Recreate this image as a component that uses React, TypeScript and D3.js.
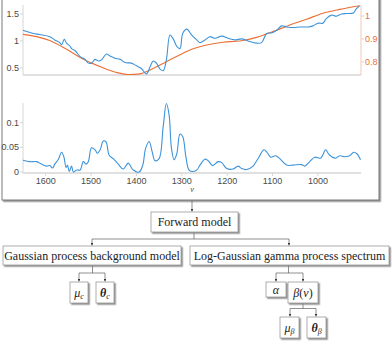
import React from "react";
import * as d3 from "d3";

// spectrum (top panel, left axis) - wavenumber / value
const specNu = [1650, 1627, 1613, 1591, 1580, 1569, 1565, 1559, 1554, 1546, 1543, 1535, 1524, 1513, 1506, 1499, 1491, 1484, 1477, 1466, 1458, 1447, 1436, 1425, 1411, 1400, 1389, 1378, 1370, 1363, 1356, 1348, 1341, 1334, 1326, 1319, 1311, 1304, 1298, 1289, 1278, 1267, 1260, 1249, 1238, 1227, 1212, 1198, 1183, 1168, 1154, 1135, 1124, 1113, 1102, 1091, 1080, 1069, 1055, 1040, 1022, 1011, 1000, 989, 981, 970, 959, 948, 937, 922, 915, 908];
const specVal = [1.20, 1.14, 1.12, 1.08, 1.02, 0.97, 0.93, 1.03, 0.96, 0.90, 0.86, 0.82, 0.71, 0.66, 0.59, 0.59, 0.66, 0.63, 0.65, 0.76, 0.72, 0.68, 0.66, 0.60, 0.59, 0.54, 0.49, 0.39, 0.52, 0.63, 0.59, 0.48, 0.45, 0.65, 1.11, 1.04, 0.90, 0.86, 1.14, 1.22, 1.11, 1.02, 0.97, 1.02, 1.08, 1.05, 1.09, 1.05, 1.02, 1.04, 1.00, 0.96, 0.97, 1.14, 1.15, 1.20, 1.28, 1.26, 1.25, 1.26, 1.26, 1.28, 1.33, 1.33, 1.42, 1.48, 1.46, 1.50, 1.51, 1.52, 1.60, 1.65];

// background (top panel, right axis)
const bgNu = [1650, 1591, 1554, 1517, 1480, 1444, 1418, 1392, 1370, 1334, 1297, 1282, 1245, 1209, 1172, 1135, 1099, 1062, 1025, 989, 952, 908];
const bgVal = [0.920, 0.893, 0.855, 0.812, 0.780, 0.754, 0.745, 0.748, 0.765, 0.801, 0.838, 0.852, 0.874, 0.886, 0.891, 0.907, 0.932, 0.961, 0.986, 1.012, 1.029, 1.045];

// signal (bottom panel)
const sigNu = [1650, 1635, 1620, 1609, 1598, 1591, 1585, 1580, 1572, 1565, 1560, 1555, 1552, 1548, 1543, 1539, 1532, 1524, 1517, 1511, 1506, 1499, 1491, 1486, 1480, 1473, 1467, 1460, 1451, 1440, 1429, 1418, 1407, 1394, 1386, 1380, 1372, 1365, 1359, 1350, 1341, 1334, 1328, 1323, 1317, 1311, 1304, 1298, 1291, 1284, 1275, 1266, 1260, 1249, 1242, 1232, 1220, 1212, 1201, 1187, 1176, 1168, 1157, 1143, 1132, 1119, 1113, 1104, 1093, 1084, 1069, 1055, 1036, 1029, 1018, 1007, 994, 989, 983, 975, 961, 952, 941, 930, 921, 914, 906];
const sigVal = [0.024, 0.021, 0.021, 0.016, 0.012, 0.013, 0.008, 0.016, 0.026, 0.040, 0.031, 0.009, 0.014, 0.001, 0.012, 0.000, 0.004, 0.004, 0.021, 0.016, 0.021, 0.049, 0.045, 0.038, 0.045, 0.063, 0.061, 0.034, 0.027, 0.016, 0.006, 0.018, 0.004, 0.000, 0.014, 0.047, 0.062, 0.040, 0.023, 0.027, 0.092, 0.139, 0.116, 0.050, 0.025, 0.037, 0.077, 0.072, 0.031, 0.004, 0.001, 0.005, 0.014, 0.026, 0.023, 0.013, 0.021, 0.019, 0.007, 0.006, 0.012, 0.007, 0.005, 0.012, 0.027, 0.045, 0.041, 0.030, 0.033, 0.027, 0.014, 0.014, 0.015, 0.012, 0.021, 0.030, 0.028, 0.035, 0.045, 0.035, 0.028, 0.033, 0.031, 0.033, 0.040, 0.037, 0.025];

const xTicks = [1600, 1500, 1400, 1300, 1200, 1100, 1000];
const leftTicks = [0.5, 1, 1.5];
const rightTicks = [0.8, 0.9, 1];
const sigTicks = [0, 0.05, 0.1];

const BLUE = "#3d93da";
const ORANGE = "#ea7035";
const AXIS = "#d6d6d6";
const TXT = "#4a4a4a";
const SANS = "'Liberation Sans', Arial, sans-serif";
const SERIF = "'Liberation Serif', 'Times New Roman', serif";

const fmt = (v: number) => String(v);

function Box({ x, y, w, h, children }: { x: number; y: number; w: number; h: number; children: React.ReactNode }) {
  return (
    <g>
      <rect x={x} y={y} width={w} height={h} fill="#fff" stroke="#9a9a9a" strokeWidth={0.8} filter="url(#shadow)" />
      <text x={x + w / 2} y={y + h / 2 + 4} textAnchor="middle" fontFamily={SERIF} fontSize={12} fill="#222">
        {children}
      </text>
    </g>
  );
}

function Arrow({ x, y1, y2 }: { x: number; y1: number; y2: number }) {
  return <line x1={x} y1={y1} x2={x} y2={y2 - 0.5} stroke="#444" strokeWidth={0.6} markerEnd="url(#ah)" />;
}

export default function App() {
  const x = d3.scaleLinear().domain([1650, 905]).range([23, 361]);
  const yL = d3.scaleLinear().domain([0.37, 1.667]).range([75, 5]);
  const yR = d3.scaleLinear().domain([0.743, 1.048]).range([75, 5]);
  const yS = d3.scaleLinear().domain([0, 0.14]).range([172, 103]);

  const curve = d3.curveCatmullRom.alpha(0.5);
  const specLine = d3.line<number>().x((_, i) => x(specNu[i])).y(d => yL(d)).curve(curve);
  const bgLine = d3.line<number>().x((_, i) => x(bgNu[i])).y(d => yR(d)).curve(d3.curveMonotoneX);
  const sigLine = d3.line<number>().x((_, i) => x(sigNu[i])).y(d => yS(d)).curve(curve);

  const [x0, x1] = x.range();

  return (
    <svg width={392} height={344} style={{ position: "absolute", left: 0, top: 0, background: "#fff" }}>
      <defs>
        <filter id="shadow" x="-10%" y="-10%" width="130%" height="150%">
          <feDropShadow dx={1.5} dy={1.5} stdDeviation={0.7} floodColor="#777" floodOpacity={0.8} />
        </filter>
        <marker id="ah" viewBox="0 0 6 6" refX={6} refY={3} markerWidth={4} markerHeight={4} orient="auto">
          <path d="M0,0 L6,3 L0,6 Z" fill="#333" />
        </marker>
      </defs>

      {/* outer frame */}
      <rect x={2} y={-5} width={377} height={205} fill="#fff" stroke="#7a7a7a" strokeWidth={1} filter="url(#shadow)" />

      {/* top panel */}
      <line x1={x0} x2={x1} y1={75} y2={75} stroke={AXIS} strokeWidth={1.5} />
      <line x1={x0} x2={x0} y1={5} y2={75} stroke={AXIS} strokeWidth={1} />
      <line x1={x1} x2={x1} y1={5} y2={75} stroke="#f3c9b3" strokeWidth={1} />
      {leftTicks.map(t => (
        <g key={"l" + t}>
          <line x1={x0 - 3} x2={x0} y1={yL(t)} y2={yL(t)} stroke={AXIS} />
          <text x={x0 - 4} y={yL(t) + 3} textAnchor="end" fontFamily={SANS} fontSize={9} fill={TXT}>{fmt(t)}</text>
        </g>
      ))}
      {rightTicks.map(t => (
        <g key={"r" + t}>
          <line x1={x1} x2={x1 + 3} y1={yR(t)} y2={yR(t)} stroke="#f3c9b3" />
          <text x={x1 + 4} y={yR(t) + 3} fontFamily={SANS} fontSize={9} fill={ORANGE}>{fmt(t)}</text>
        </g>
      ))}
      <path d={bgLine(bgVal) || ""} fill="none" stroke={ORANGE} strokeWidth={1.1} />
      <path d={specLine(specVal) || ""} fill="none" stroke={BLUE} strokeWidth={1.1} />

      {/* bottom panel */}
      <line x1={x0} x2={x1} y1={173} y2={173} stroke={AXIS} strokeWidth={1.5} />
      <line x1={x0} x2={x0} y1={103} y2={173} stroke={AXIS} strokeWidth={1} />
      {sigTicks.map(t => (
        <g key={"s" + t}>
          <line x1={x0 - 3} x2={x0} y1={yS(t)} y2={yS(t)} stroke={AXIS} />
          <text x={x0 - 4} y={yS(t) + 3} textAnchor="end" fontFamily={SANS} fontSize={9} fill={TXT}>{fmt(t)}</text>
        </g>
      ))}
      {xTicks.map(t => (
        <g key={"x" + t}>
          <line x1={x(t)} x2={x(t)} y1={173} y2={176} stroke={AXIS} />
          <text x={x(t)} y={184} textAnchor="middle" fontFamily={SANS} fontSize={9} fill={TXT}>{t}</text>
        </g>
      ))}
      <text x={(x0 + x1) / 2} y={192} textAnchor="middle" fontFamily={SERIF} fontStyle="italic" fontSize={8} fill={TXT}>ν</text>
      <path d={sigLine(sigVal) || ""} fill="none" stroke={BLUE} strokeWidth={1.1} />

      {/* flow chart connectors */}
      <Arrow x={192} y1={201} y2={212} />
      <line x1={194} x2={194} y1={232} y2={239} stroke="#444" strokeWidth={0.6} />
      <line x1={92} x2={289} y1={239} y2={239} stroke="#444" strokeWidth={0.6} />
      <Arrow x={92} y1={239} y2={246} />
      <Arrow x={289} y1={239} y2={246} />

      <line x1={92.5} x2={92.5} y1={265} y2={273} stroke="#444" strokeWidth={0.6} />
      <line x1={79} x2={105} y1={273} y2={273} stroke="#444" strokeWidth={0.6} />
      <Arrow x={79} y1={273} y2={282} />
      <Arrow x={105} y1={273} y2={282} />

      <line x1={288.5} x2={288.5} y1={265} y2={273} stroke="#444" strokeWidth={0.6} />
      <line x1={276} x2={303} y1={273} y2={273} stroke="#444" strokeWidth={0.6} />
      <Arrow x={276} y1={273} y2={282} />
      <Arrow x={303} y1={273} y2={282} />

      <line x1={303} x2={303} y1={303} y2={308.5} stroke="#444" strokeWidth={0.6} />
      <line x1={290} x2={316} y1={308.5} y2={308.5} stroke="#444" strokeWidth={0.6} />
      <Arrow x={290} y1={308.5} y2={317} />
      <Arrow x={316} y1={308.5} y2={317} />

      {/* flow chart boxes */}
      <Box x={151} y={212} w={87} h={20}>Forward model</Box>
      <Box x={3} y={246} w={178} h={19}>Gaussian process background model</Box>
      <Box x={190} y={246} w={199} h={19}>Log-Gaussian gamma process spectrum</Box>

      <Box x={70} y={282} w={18} h={21}>
        <tspan fontStyle="italic">μ</tspan>
        <tspan fontStyle="italic" fontSize={8} dy={2}>c</tspan>
      </Box>
      <Box x={96} y={282} w={18} h={21}>
        <tspan fontStyle="italic" fontWeight="bold">θ</tspan>
        <tspan fontStyle="italic" fontSize={8} dy={2}>c</tspan>
      </Box>
      <Box x={266} y={282} w={20} h={15}>
        <tspan fontStyle="italic">α</tspan>
      </Box>
      <Box x={288} y={282} w={30} h={21}>
        <tspan fontStyle="italic">β</tspan>(<tspan fontStyle="italic">ν</tspan>)
      </Box>
      <Box x={280} y={317} w={19} h={21}>
        <tspan fontStyle="italic">μ</tspan>
        <tspan fontStyle="italic" fontSize={8} dy={2}>β</tspan>
      </Box>
      <Box x={307} y={317} w={19} h={21}>
        <tspan fontStyle="italic" fontWeight="bold">θ</tspan>
        <tspan fontStyle="italic" fontSize={8} dy={2}>β</tspan>
      </Box>
    </svg>
  );
}
